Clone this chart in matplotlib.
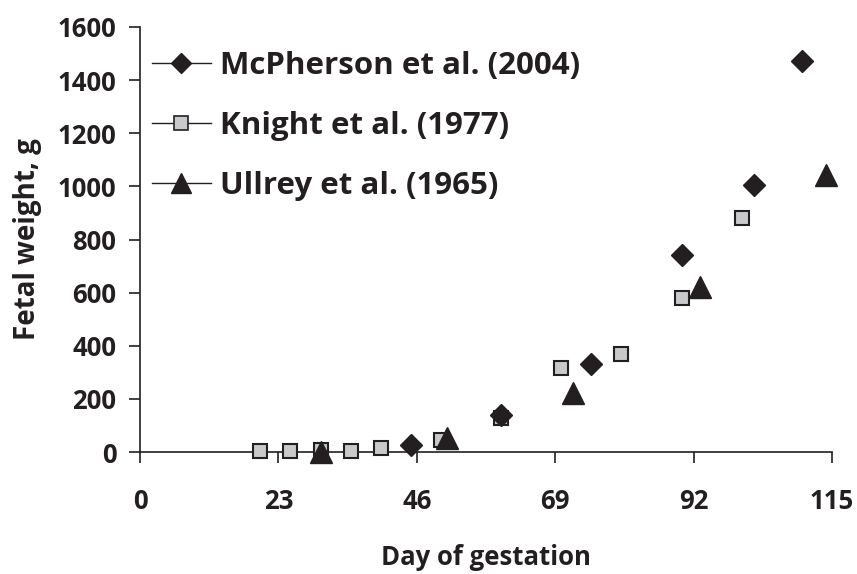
import matplotlib
matplotlib.use("Agg")
import matplotlib.pyplot as plt
from matplotlib.lines import Line2D

# Fetal weight (g) by day of gestation
mcpherson_days = [45, 60, 75, 90, 102, 110]
mcpherson_weight = [26, 139, 333, 740, 1005, 1472]

knight_days = [20, 25, 30, 35, 40, 50, 60, 70, 80, 90, 100]
knight_weight = [4, 5, 6, 5, 14, 45, 128, 315, 368, 579, 880]

ullrey_days = [30, 51, 72, 93, 114]
ullrey_weight = [1, 53, 221, 621, 1043]

x_ticks = [0, 23, 46, 69, 92, 115]
y_ticks = [0, 200, 400, 600, 800, 1000, 1200, 1400, 1600]

INK = "#231f20"
GREY = "#c8c9cb"

plt.rcParams["font.family"] = ["Open Sans", "DejaVu Sans"]
plt.rcParams["font.weight"] = "bold"

fig = plt.figure(figsize=(8.57, 5.74), dpi=100)
ax = fig.add_axes([0.1634, 0.2125, 0.8074, 0.7405])

ax.plot(mcpherson_days, mcpherson_weight, linestyle="none", marker="D", markersize=11,
        color=INK, markeredgecolor=INK, clip_on=False, zorder=5)
ax.plot(knight_days, knight_weight, linestyle="none", marker="s", markersize=10.5,
        markerfacecolor=GREY, markeredgecolor=INK, markeredgewidth=1.5, clip_on=False, zorder=4)
ax.plot(ullrey_days, ullrey_weight, linestyle="none", marker="^", markersize=15.5,
        color=INK, markeredgecolor=INK, clip_on=False, zorder=6)

ax.set_xlim(0, 115)
ax.set_ylim(0, 1600)
ax.set_xticks(x_ticks)
ax.set_yticks(y_ticks)

for side in ["top", "right"]:
    ax.spines[side].set_visible(False)
for side in ["left", "bottom"]:
    ax.spines[side].set_linewidth(1.2)
    ax.spines[side].set_color(INK)

ax.tick_params(axis="both", direction="out", length=8, width=1.2, color=INK,
               labelsize=18.5, labelcolor=INK)
ax.tick_params(axis="x", pad=18)
ax.tick_params(axis="y", pad=9)
for lbl in ax.get_xticklabels() + ax.get_yticklabels():
    lbl.set_fontweight("bold")

ax.set_xlabel("Day of gestation", fontsize=18.5, fontweight="bold", color=INK, labelpad=21)
ax.set_ylabel("Fetal weight, g", fontsize=20, fontweight="bold", color=INK, labelpad=11)

# legend shows line + marker like the Excel original
handles = [
    Line2D([], [], color=INK, linewidth=1, marker="D", markersize=10, markeredgecolor=INK),
    Line2D([], [], color=INK, linewidth=1, marker="s", markersize=9.4,
           markerfacecolor=GREY, markeredgecolor=INK, markeredgewidth=1.2),
    Line2D([], [], color=INK, linewidth=1, marker="^", markersize=14.4, markeredgecolor=INK),
]
labels = ["McPherson et al. (2004)", "Knight et al. (1977)", "Ullrey et al. (1965)"]
ax.legend(handles, labels, loc="upper left", bbox_to_anchor=(-0.024, 1.01), frameon=False,
          prop={"size": 22.5, "weight": "bold"}, handlelength=1.9, handletextpad=0.28,
          labelspacing=0.96, labelcolor=INK)

fig.savefig("out.png", dpi=100)
